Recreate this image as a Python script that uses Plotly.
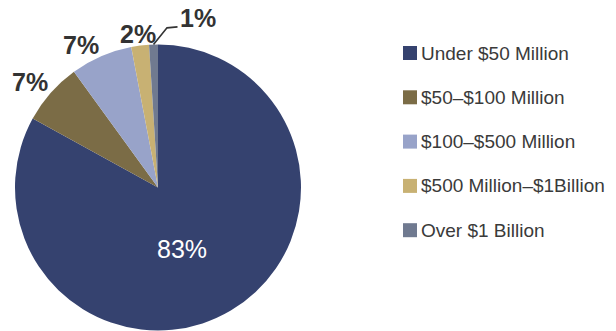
import math
import plotly.graph_objects as go

# Company size distribution
categories = [
    "Under $50 Million",
    "$50\u2013$100 Million",
    "$100\u2013$500 Million",
    "$500 Million\u2013$1Billion",
    "Over $1 Billion",
]
shares = [83, 7, 7, 2, 1]
colors = ["#35426f", "#7b6c46", "#98a3c9", "#c8b173", "#707a90"]

W, H = 616, 331
CX, CY, R = 158.0, 187.5, 143.0   # pie centre / radius in pixels
FONT = "Liberation Sans, Arial, Helvetica, sans-serif"
LABEL_COLOR = "#333333"


def px(x, y):
    """pixel position -> paper coordinates"""
    return x / W, 1 - y / H


fig = go.Figure(
    go.Pie(
        labels=categories,
        values=shares,
        sort=False,
        direction="clockwise",
        rotation=0,
        marker=dict(colors=colors, line=dict(width=0)),
        textinfo="none",
        hoverinfo="label+percent",
        showlegend=False,
        domain=dict(x=[(CX - R) / W, (CX + R) / W],
                    y=[1 - (CY + R) / H, 1 - (CY - R) / H]),
    )
)

annotations = []
shapes = []
total = float(sum(shares))
start = 0.0
for i, v in enumerate(shares):
    sweep = v / total * 360.0
    mid = math.radians(start + sweep / 2)
    start += sweep
    dx, dy = math.sin(mid), -math.cos(mid)
    label = f"{v}%"
    if v / total >= 0.5:
        # large slice: label inside in white
        a = mid + math.radians(9)
        x, y = CX + 0.46 * R * math.sin(a), CY - 0.46 * R * math.cos(a)
        x0, y0 = px(x, y)
        annotations.append(dict(x=x0, y=y0, xref="paper", yref="paper", text=label,
                                showarrow=False, xanchor="center", yanchor="middle",
                                font=dict(family=FONT, size=25, color="white")))
    elif v / total >= 0.015:
        size = 25
        cap = 0.716 * size
        ex, ey = CX + (R + 1) * dx, CY + (R + 1) * dy
        if abs(dx) < 0.3:
            xa = "center"
            ex += dx * 18
        else:
            xa = "right" if dx < 0 else "left"
        x0, y0 = px(ex, ey - cap / 2 - 1.5)
        annotations.append(dict(x=x0, y=y0, xref="paper", yref="paper", text=f"<b>{label}</b>",
                                showarrow=False, xanchor=xa, yanchor="middle",
                                font=dict(family=FONT, size=size, color=LABEL_COLOR)))
    else:
        # tiny slice: leader line out to the right
        size = 25
        cap = 0.716 * size
        ex, ey = CX + R * dx, CY + R * dy
        kx, ky = ex + 13.5, ey - 16.7
        tx, ty = kx + 10.5, ky - 1
        shapes.append(dict(type="path", xref="paper", yref="paper",
                           path="M {} {} L {} {} L {} {}".format(*px(ex, ey), *px(kx, ky), *px(tx, ty)),
                           line=dict(color=LABEL_COLOR, width=1.6)))
        x0, y0 = px(tx + 0.5, ty - cap / 2 + 0.5)
        annotations.append(dict(x=x0, y=y0, xref="paper", yref="paper", text=f"<b>{label}</b>",
                                showarrow=False, xanchor="left", yanchor="middle",
                                font=dict(family=FONT, size=size, color=LABEL_COLOR)))

# Legend drawn as swatches + text
LEG_X, LEG_Y0, LEG_STEP, SW = 403, 53, 44.3, 14
for i, (cat, col) in enumerate(zip(categories, colors)):
    yc = LEG_Y0 + i * LEG_STEP
    xa, ya = px(LEG_X, yc - SW / 2)
    xb, yb = px(LEG_X + SW, yc + SW / 2)
    shapes.append(dict(type="rect", xref="paper", yref="paper", x0=xa, x1=xb, y0=yb, y1=ya,
                       fillcolor=col, line=dict(width=0)))
    tx, ty = px(LEG_X + SW + 2, yc)
    annotations.append(dict(x=tx, y=ty, xref="paper", yref="paper", text=cat, showarrow=False,
                            xanchor="left", yanchor="middle",
                            font=dict(family=FONT, size=19, color="#3a3a3a")))

fig.update_layout(
    width=W, height=H,
    margin=dict(l=0, r=0, t=0, b=0),
    paper_bgcolor="white", plot_bgcolor="white",
    annotations=annotations, shapes=shapes,
)

fig.write_html("out.html")
